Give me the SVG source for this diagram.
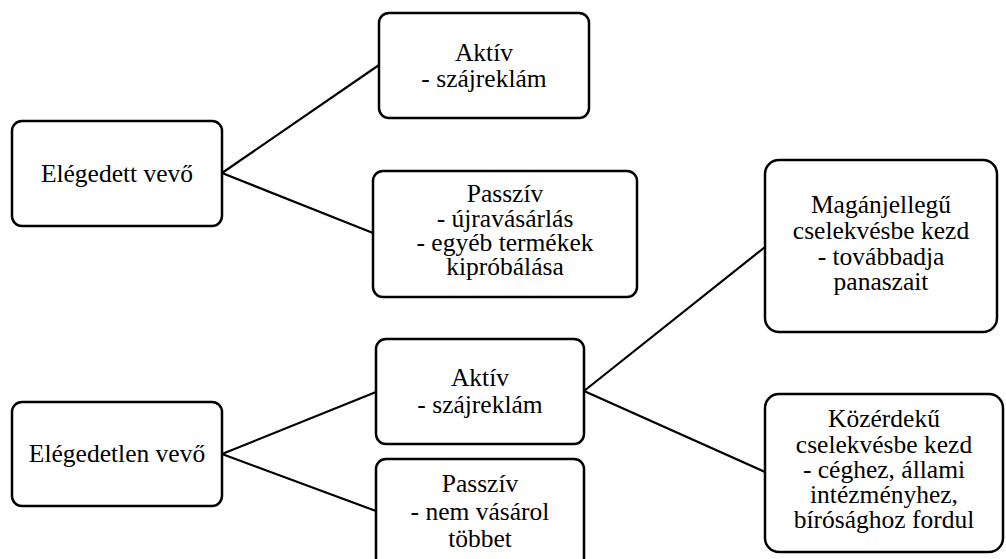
<svg xmlns="http://www.w3.org/2000/svg" width="1006" height="559" viewBox="0 0 1006 559">
<style>
.box{fill:#fff;stroke:#000;stroke-width:2.5}
.t{font-family:"Liberation Serif","Times New Roman","DejaVu Serif",serif;font-size:25.5px;fill:#000;text-anchor:middle}
.c{stroke:#000;stroke-width:2.2;fill:none}
</style>
<rect width="1006" height="559" fill="#fff"/>
<g id="connectors">
<line class="c" x1="222" y1="173" x2="379" y2="65"/>
<line class="c" x1="222" y1="173" x2="373" y2="233"/>
<line class="c" x1="222" y1="454" x2="376" y2="392"/>
<line class="c" x1="222" y1="454" x2="376" y2="511"/>
<line class="c" x1="584" y1="391" x2="765" y2="247"/>
<line class="c" x1="584" y1="391" x2="765" y2="472"/>
</g>
<g id="elegedett">
<rect class="box" x="12" y="121" width="210" height="105" rx="10"/>
<text class="t" x="117" y="182">Elégedett vevő</text>
</g>
<g id="aktiv1">
<rect class="box" x="379" y="13" width="210" height="105" rx="10"/>
<text class="t" x="484" y="61">Aktív</text>
<text class="t" x="484" y="87">- szájreklám</text>
</g>
<g id="passziv1">
<rect class="box" x="373" y="171" width="264" height="126" rx="10"/>
<text class="t" x="505" y="202">Passzív</text>
<text class="t" x="505" y="227">- újravásárlás</text>
<text class="t" x="505" y="251">- egyéb termékek</text>
<text class="t" x="505" y="275">kipróbálása</text>
</g>
<g id="elegedetlen">
<rect class="box" x="12" y="402" width="210" height="104" rx="10"/>
<text class="t" x="117" y="462">Elégedetlen vevő</text>
</g>
<g id="aktiv2">
<rect class="box" x="376" y="339" width="208" height="105" rx="10"/>
<text class="t" x="480" y="386">Aktív</text>
<text class="t" x="480" y="413">- szájreklám</text>
</g>
<g id="passziv2">
<rect class="box" x="376" y="459" width="208" height="110" rx="10"/>
<text class="t" x="480" y="492">Passzív</text>
<text class="t" x="480" y="520">- nem vásárol</text>
<text class="t" x="480" y="547">többet</text>
</g>
<g id="maganjellegu">
<rect class="box" x="765" y="160" width="232" height="172" rx="14"/>
<text class="t" x="881" y="213">Magánjellegű</text>
<text class="t" x="881" y="239">cselekvésbe kezd</text>
<text class="t" x="881" y="265">- továbbadja</text>
<text class="t" x="881" y="290">panaszait</text>
</g>
<g id="kozerdeku">
<rect class="box" x="765" y="394" width="238" height="158" rx="14"/>
<text class="t" x="884" y="427">Közérdekű</text>
<text class="t" x="884" y="453">cselekvésbe kezd</text>
<text class="t" x="884" y="478">- céghez, állami</text>
<text class="t" x="884" y="503">intézményhez,</text>
<text class="t" x="884" y="528">bírósághoz fordul</text>
</g>
</svg>
